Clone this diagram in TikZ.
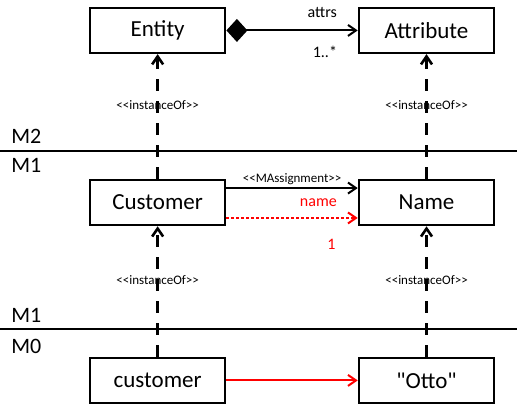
\documentclass[tikz,border=0pt]{standalone}
\usepackage{fontspec}
\setmainfont{Carlito}[Ligatures=TeXOff]
\usetikzlibrary{arrows.meta,positioning}

\begin{document}
\begin{tikzpicture}[>={Straight Barb[length=8pt,width=11pt]},
  box/.style={draw, line width=2.4pt, minimum width=4.75cm, minimum height=1.58cm, font=\fontsize{23}{27}\selectfont},
  inst/.style={->, line width=2.6pt, dash pattern=on 12pt off 10pt},
  lbl/.style={inner sep=1pt, font=\fontsize{16}{19}\selectfont},
  stereo/.style={inner sep=1pt, font=\fontsize{13}{15}\selectfont},
  level/.style={anchor=base west, inner sep=0pt, font=\fontsize{22}{26}\selectfont}]
  \useasboundingbox (0,0) rectangle (18.17,14.27);
  % M2
  \node[box] (Entity) at (5.54,13.20) {Entity};
  \node[box] (Attribute) at (14.99,13.20) {Attribute};
  % M1
  \node[box] (Customer) at (5.54,7.15) {Customer};
  \node[box] (Name) at (14.99,7.15) {Name};
  % M0
  \node[box] (customer) at (5.54,0.90) {customer};
  \node[box] (Otto) at (14.99,0.90) {"Otto"};
  % level separators
  \draw[line width=2pt] (0,8.96) -- (18.17,8.96);
  \draw[line width=2pt] (0,2.71) -- (18.17,2.71);
  \node[level] (M2) at (0.39,9.24) {M2};
  \node[level] (M1a) at (0.39,8.19) {M1};
  \node[level] (M1b) at (0.39,2.92) {M1};
  \node[level] (M0) at (0.39,1.86) {M0};
  % composition
  \draw[line width=2pt, {Diamond[length=21pt,width=23pt]}->] (Entity) -- (Attribute)
    node[lbl, pos=0.73, above=11pt] {attrs}
    node[lbl, pos=0.75, below=14pt] {1..*};
  % instanceOf links
  \draw[inst] (Customer) -- (Entity) node[stereo, pos=0.59] {<<instanceOf>>};
  \draw[inst] (Name) -- (Attribute) node[stereo, pos=0.59] {<<instanceOf>>};
  \draw[inst] (customer) -- (Customer) node[stereo, pos=0.59] {<<instanceOf>>};
  \draw[inst] (Otto) -- (Name) node[stereo, pos=0.59] {<<instanceOf>>};
  % assignment and its slot
  \draw[line width=2pt, ->] ([yshift=0.51cm]Customer.east) -- ([yshift=0.51cm]Name.west)
    node[stereo, midway, above=1pt] {<<MAssignment>>};
  \draw[red, line width=2pt, dash pattern=on 3pt off 2pt, ->] ([yshift=-0.54cm]Customer.east) -- ([yshift=-0.54cm]Name.west)
    node[lbl, pos=0.70, above=9pt] {name}
    node[lbl, pos=0.80, below=19pt] {1};
  \draw[red, line width=2pt, ->] (customer) -- (Otto);
\end{tikzpicture}
\end{document}
